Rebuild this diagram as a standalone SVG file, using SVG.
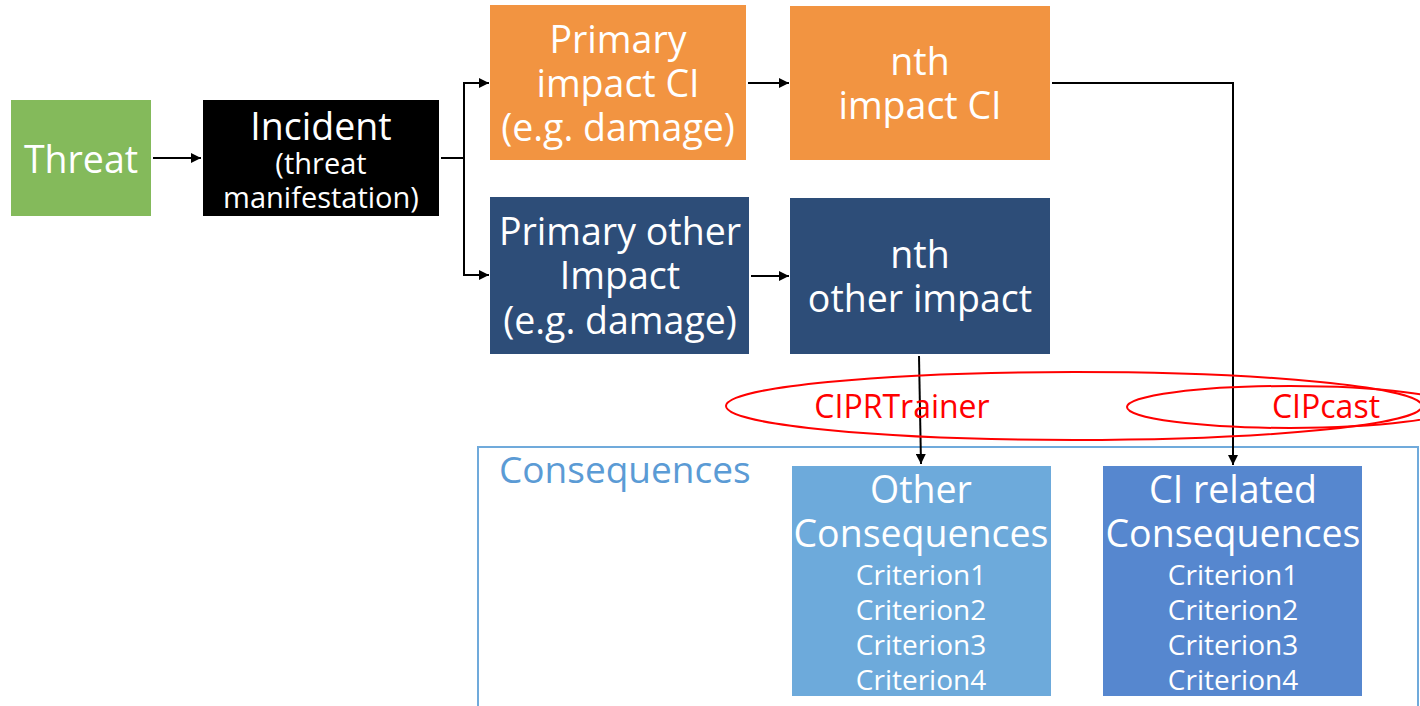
<svg xmlns="http://www.w3.org/2000/svg" width="1420" height="706" viewBox="0 0 1420 706">
<style>
text{font-family:"Open Sans","Noto Sans",sans-serif;fill:#fff;text-anchor:middle}
.t36{font-size:37.5px}
.t28{font-size:29px}
.crit{font-size:28px}
.red{fill:#ff0000;font-size:32px}
.conn{stroke:#000;stroke-width:2;fill:none}
.ell{stroke:#ff0000;stroke-width:2;fill:none}
</style>
<defs>
<marker id="ah" markerWidth="10" markerHeight="10" refX="10" refY="5" orient="auto" markerUnits="userSpaceOnUse">
<path d="M0,0 L10,5 L0,10 z" fill="#000"/>
</marker>
</defs>
<rect width="1420" height="706" fill="#fff"/>
<g id="consequences-frame">
<rect x="478" y="447" width="940" height="280" fill="none" stroke="#70aadb" stroke-width="2"/>
<text x="499" y="483" style="text-anchor:start;fill:#5b9bd5;font-size:37px">Consequences</text>
</g>
<g id="threat">
<rect x="11" y="100" width="140" height="116" fill="#84ba5b"/>
<text x="81" y="173" class="t36">Threat</text>
</g>
<g id="incident">
<rect x="203" y="100" width="236" height="116" fill="#000"/>
<text x="321" y="140" class="t36">Incident</text>
<text x="321" y="174" class="t28">(threat</text>
<text x="321" y="208" class="t28">manifestation)</text>
</g>
<g id="primary-ci">
<rect x="490" y="5" width="256" height="155" fill="#f29441"/>
<text x="618" y="53" class="t36">Primary</text>
<text x="618" y="97" class="t36">impact CI</text>
<text x="618" y="141" class="t36">(e.g. damage)</text>
</g>
<g id="nth-ci">
<rect x="790" y="6" width="260" height="154" fill="#f29441"/>
<text x="920" y="75" class="t36">nth</text>
<text x="920" y="119" class="t36">impact CI</text>
</g>
<g id="primary-other">
<rect x="490" y="197" width="259" height="157" fill="#2d4d78"/>
<text x="620" y="245" class="t36">Primary other</text>
<text x="620" y="289" class="t36">Impact</text>
<text x="620" y="334" class="t36">(e.g. damage)</text>
</g>
<g id="nth-other">
<rect x="790" y="198" width="260" height="156" fill="#2d4d78"/>
<text x="920" y="268" class="t36">nth</text>
<text x="920" y="312" class="t36">other impact</text>
</g>
<g id="other-consequences">
<rect x="792" y="466" width="259" height="230" fill="#6daadb"/>
<text x="921" y="503" class="t36">Other</text>
<text x="921" y="547" class="t36">Consequences</text>
<text x="921" y="585" class="crit">Criterion1</text>
<text x="921" y="620" class="crit">Criterion2</text>
<text x="921" y="655" class="crit">Criterion3</text>
<text x="921" y="690" class="crit">Criterion4</text>
</g>
<g id="ci-consequences">
<rect x="1103" y="466" width="259" height="230" fill="#5687cf"/>
<text x="1233" y="503" class="t36">CI related</text>
<text x="1233" y="547" class="t36">Consequences</text>
<text x="1233" y="585" class="crit">Criterion1</text>
<text x="1233" y="620" class="crit">Criterion2</text>
<text x="1233" y="655" class="crit">Criterion3</text>
<text x="1233" y="690" class="crit">Criterion4</text>
</g>
<g id="connectors">
<path class="conn" d="M153,158 H201" marker-end="url(#ah)"/>
<path class="conn" d="M441,158 H464"/>
<path class="conn" d="M464,158 V83 H489" marker-end="url(#ah)"/>
<path class="conn" d="M464,158 V275 H489" marker-end="url(#ah)"/>
<path class="conn" d="M748,83 H789" marker-end="url(#ah)"/>
<path class="conn" d="M751,276 H789" marker-end="url(#ah)"/>
<path class="conn" d="M1052,83 H1233 V465" marker-end="url(#ah)"/>
<path class="conn" d="M919,356 L921,464" marker-end="url(#ah)"/>
</g>
<g id="tools">
<ellipse class="ell" cx="1074" cy="406" rx="348" ry="34"/>
<ellipse class="ell" cx="1290" cy="407" rx="163" ry="21"/>
<text x="902" y="418" class="red">CIPRTrainer</text>
<text x="1326" y="418" class="red">CIPcast</text>
</g>
</svg>
